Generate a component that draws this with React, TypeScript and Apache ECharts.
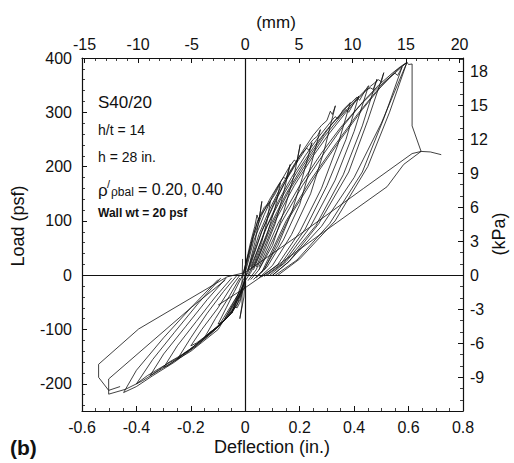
import React, { useEffect, useRef } from "react";
import * as echarts from "echarts";

// ---- tick values ----
const mmTicks = [-15, -10, -5, 0, 5, 10, 15, 20];
const mmMinor = [-14, -13, -12, -11, -9, -8, -7, -6, -4, -3, -2, -1, 1, 2, 3, 4, 6, 7, 8, 9, 11, 12, 13, 14, 16, 17, 18, 19];
const psfTicks = [-200, -100, 0, 100, 200, 300, 400];
const psfMinor = [-240, -220, -180, -160, -140, -120, -80, -60, -40, -20, 20, 40, 60, 80, 120, 140, 160, 180, 220, 240, 260, 280, 320, 340, 360, 380];
const kpaTicks = [-9, -6, -3, 0, 3, 6, 9, 12, 15, 18];
const kpaMinor = [-11, -10, -8, -7, -5, -4, -2, -1, 1, 2, 4, 5, 7, 8, 10, 11, 13, 14, 16, 17, 19];

// ---- positive half cycles [deflection in., load psf] ----
const pos01 = [[-0.01, -5], [0.01, 40], [0.02, 62], [0.035, 90], [0.043, 111], [0.05, 100], [0.061, 136], [0.05, 100], [0.035, 60], [0.015, 20], [0, -5]];
const pos02 = [[-0.01, 0], [0.015, 45], [0.03, 75], [0.05, 105], [0.07, 120], [0.092, 136], [0.08, 100], [0.06, 60], [0.035, 25], [0.01, 0]];
const pos03 = [[-0.005, 5], [0.02, 55], [0.045, 100], [0.07, 125], [0.09, 135], [0.11, 150], [0.129, 170], [0.11, 125], [0.08, 75], [0.05, 35], [0.02, 5], [0, -10]];
const pos04 = [[0, 10], [0.03, 70], [0.06, 110], [0.09, 140], [0.12, 165], [0.14, 180], [0.15, 178], [0.165, 204], [0.14, 150], [0.11, 95], [0.07, 45], [0.04, 10], [0.01, -10]];
const pos05 = [[0, 5], [0.03, 62], [0.07, 112], [0.1, 145], [0.13, 172], [0.16, 198], [0.18, 212], [0.19, 208], [0.202, 241], [0.18, 185], [0.14, 115], [0.1, 55], [0.05, 10], [0.02, -8]];
const pos06 = [[0.01, 10], [0.05, 75], [0.09, 122], [0.13, 162], [0.17, 196], [0.2, 220], [0.225, 234], [0.235, 230], [0.245, 244], [0.21, 180], [0.17, 115], [0.12, 55], [0.07, 12], [0.03, -8]];
const pos07 = [[0.01, 5], [0.06, 80], [0.11, 135], [0.15, 175], [0.19, 208], [0.23, 238], [0.25, 250], [0.265, 256], [0.276, 268], [0.24, 200], [0.2, 130], [0.14, 65], [0.08, 15], [0.04, -5]];
const pos08 = [[0.01, 10], [0.06, 80], [0.11, 138], [0.16, 185], [0.21, 228], [0.25, 258], [0.28, 276], [0.3, 285], [0.3125, 302], [0.32, 296], [0.331, 312], [0.29, 230], [0.24, 150], [0.17, 75], [0.1, 18], [0.05, -5]];
const pos09 = [[0.02, 10], [0.07, 80], [0.12, 135], [0.17, 180], [0.22, 220], [0.27, 255], [0.31, 280], [0.33, 292], [0.34, 288], [0.36, 305], [0.386, 318], [0.34, 240], [0.28, 160], [0.2, 80], [0.12, 20], [0.06, -3]];
const pos10 = [[0.02, 15], [0.08, 90], [0.13, 140], [0.19, 190], [0.25, 235], [0.3, 268], [0.34, 290], [0.37, 305], [0.38, 300], [0.4, 318], [0.417, 330], [0.37, 250], [0.3, 165], [0.22, 85], [0.13, 20], [0.07, -2]];
const pos11 = [[0.03, 15], [0.09, 90], [0.15, 150], [0.21, 200], [0.27, 245], [0.32, 280], [0.37, 308], [0.41, 328], [0.42, 322], [0.44, 340], [0.453, 349], [0.4, 265], [0.33, 175], [0.24, 90], [0.14, 22], [0.08, 0]];
const pos12 = [[0.03, 10], [0.1, 95], [0.16, 155], [0.23, 210], [0.29, 255], [0.35, 292], [0.4, 320], [0.44, 340], [0.46, 345], [0.47, 342], [0.484, 361], [0.43, 275], [0.36, 185], [0.26, 92], [0.15, 25], [0.09, 0]];
const pos13 = [[0.04, 15], [0.11, 100], [0.18, 165], [0.25, 220], [0.31, 262], [0.37, 300], [0.42, 328], [0.46, 348], [0.49, 360], [0.5, 356], [0.509, 373], [0.45, 285], [0.38, 190], [0.27, 95], [0.16, 25], [0.1, 0]];
const pos14 = [[0.05, 15], [0.12, 95], [0.2, 165], [0.28, 225], [0.35, 272], [0.42, 312], [0.48, 342], [0.52, 360], [0.55, 372], [0.56, 368], [0.576, 383], [0.51, 290], [0.43, 190], [0.31, 95], [0.19, 28], [0.11, 0]];
const pos15 = [[0.05, 10], [0.13, 95], [0.21, 165], [0.29, 225], [0.36, 275], [0.43, 318], [0.49, 350], [0.54, 372], [0.57, 384], [0.594, 392], [0.53, 300], [0.45, 200], [0.33, 100], [0.2, 30], [0.12, 0]];
const pos16 = [[0.06, 5], [0.15, 100], [0.24, 175], [0.33, 240], [0.41, 295], [0.48, 338], [0.54, 368], [0.594, 392], [0.5, 280], [0.4, 180], [0.28, 90], [0.16, 25], [0.1, 0]];
const failure = [[0.07, 10], [0.16, 105], [0.26, 185], [0.35, 250], [0.43, 305], [0.5, 348], [0.55, 375], [0.594, 392], [0.6, 388], [0.613, 389], [0.613, 275], [0.646, 228], [0.68, 227], [0.72, 222]];
const failureUnload1 = [[0.646, 228], [0.613, 224], [0.435, 160], [0.2, 75], [0.0, 5], [-0.067, -3], [-0.392, -99], [-0.539, -164], [-0.539, -188], [-0.502, -212], [-0.46, -205]];
const failureUnload2 = [[0.646, 228], [0.582, 204], [0.521, 163], [0.3, 84], [0.129, 22], [-0.006, -25], [-0.1, -55]];

// ---- negative half cycles ----
const neg01 = [[0.0, -5], [-0.01, -30], [-0.02, -50], [-0.03, -60], [-0.04, -58], [-0.05, -70], [-0.03, -40], [-0.01, -10], [0.01, 5]];
const neg02 = [[0, 0], [-0.02, -45], [-0.05, -70], [-0.08, -85], [-0.1, -90], [-0.07, -60], [-0.04, -30], [-0.01, 0]];
const neg03 = [[0, -5], [-0.03, -55], [-0.07, -80], [-0.1, -95], [-0.13, -105], [-0.15, -115], [-0.11, -80], [-0.06, -40], [-0.02, -5]];
const neg04 = [[0, -10], [-0.04, -60], [-0.09, -90], [-0.14, -110], [-0.18, -125], [-0.2, -130], [-0.16, -100], [-0.1, -60], [-0.05, -20], [-0.02, 0]];
const neg05 = [[-0.005, -15], [-0.05, -70], [-0.1, -95], [-0.15, -115], [-0.2, -135], [-0.23, -145], [-0.25, -155], [-0.2, -115], [-0.14, -70], [-0.08, -30], [-0.03, 0]];
const neg06 = [[0, -20], [-0.06, -75], [-0.12, -105], [-0.18, -130], [-0.24, -150], [-0.28, -165], [-0.3, -170], [-0.25, -130], [-0.18, -85], [-0.11, -40], [-0.05, -5]];
const neg07 = [[-0.01, -25], [-0.07, -80], [-0.14, -110], [-0.21, -140], [-0.28, -160], [-0.32, -175], [-0.35, -185], [-0.3, -145], [-0.22, -95], [-0.14, -45], [-0.07, -5]];
const neg08 = [[-0.01, -20], [-0.08, -85], [-0.16, -120], [-0.24, -150], [-0.31, -170], [-0.36, -185], [-0.4, -200], [-0.34, -155], [-0.26, -105], [-0.17, -50], [-0.09, -5]];
const neg09 = [[-0.02, -30], [-0.1, -95], [-0.18, -130], [-0.26, -160], [-0.34, -185], [-0.4, -205], [-0.447, -216], [-0.4, -175], [-0.3, -115], [-0.2, -60], [-0.1, -8]];
const neg10 = [[-0.02, -35], [-0.1, -100], [-0.2, -140], [-0.3, -170], [-0.38, -195], [-0.44, -210], [-0.502, -219], [-0.502, -191], [-0.35, -125], [-0.2, -60], [-0.074, -9]];
const centerSpike = [[-0.01, 30], [-0.012, -24], [-0.012, -55], [-0.02, -80], [-0.005, -40], [0.0, 10]];

const curves = [pos01, pos02, pos03, pos04, pos05, pos06, pos07, pos08, pos09, pos10, pos11, pos12, pos13, pos14, pos15, pos16, failure, failureUnload1, failureUnload2,
  neg01, neg02, neg03, neg04, neg05, neg06, neg07, neg08, neg09, neg10, centerSpike];

const IN_TO_MM = 25.4;
const PSF_TO_KPA = 0.0478803;
const X_MIN = -0.6, X_MAX = 0.8, Y_MIN = -250, Y_MAX = 400;

const FONT = "'Liberation Sans', Arial, Helvetica, sans-serif";
const INK = "#111";

export default function App() {
  const ref = useRef<HTMLDivElement>(null);
  useEffect(() => {
    if (!ref.current) return;
    const chart = echarts.init(ref.current, undefined, { renderer: "svg" });
    const axisLine = { show: true, onZero: false, lineStyle: { color: INK, width: 1.2 } };
    const noLine = { show: false, onZero: false };
    const majorTick = { show: true, inside: true, length: 5, lineStyle: { color: INK, width: 1 } };
    const minorTickStyle = { show: true, inside: true, length: 3, lineStyle: { color: INK, width: 0.8 } };
    const label = { color: INK, fontSize: 16, fontFamily: FONT };
    const txt = (text: string, x: number, y: number, size: number, opts: any = {}) => ({
      type: "text", x, y, rotation: opts.rotation || 0, silent: true,
      style: { text, fontSize: size, fontFamily: FONT, fontWeight: opts.weight || "normal", fill: INK,
        align: opts.align || "left", verticalAlign: "middle" },
    });
    chart.setOption({
      animation: false,
      backgroundColor: "#fff",
      grid: { left: 82, top: 58, right: 51, bottom: 52 },
      xAxis: [
        { type: "value", position: "bottom", min: X_MIN, max: X_MAX, interval: 0.2,
          axisLine, axisTick: majorTick, minorTick: { ...minorTickStyle, splitNumber: 4 },
          axisLabel: { ...label, margin: 8 }, splitLine: { show: false }, minorSplitLine: { show: false } },
        { type: "value", position: "top", min: X_MIN * IN_TO_MM, max: X_MAX * IN_TO_MM,
          axisLine, axisTick: { ...majorTick, customValues: mmTicks },
          axisLabel: { ...label, margin: 6, customValues: mmTicks }, splitLine: { show: false } },
        { type: "value", position: "top", min: X_MIN * IN_TO_MM, max: X_MAX * IN_TO_MM,
          axisLine: noLine, axisTick: { ...minorTickStyle, customValues: mmMinor },
          axisLabel: { show: false }, splitLine: { show: false } },
      ],
      yAxis: [
        { type: "value", position: "left", min: Y_MIN, max: Y_MAX,
          axisLine, axisTick: { ...majorTick, customValues: psfTicks },
          axisLabel: { ...label, margin: 10, customValues: psfTicks }, splitLine: { show: false } },
        { type: "value", position: "left", min: Y_MIN, max: Y_MAX,
          axisLine: noLine, axisTick: { ...minorTickStyle, customValues: psfMinor },
          axisLabel: { show: false }, splitLine: { show: false } },
        { type: "value", position: "right", min: Y_MIN * PSF_TO_KPA, max: Y_MAX * PSF_TO_KPA,
          axisLine, axisTick: { ...majorTick, customValues: kpaTicks },
          axisLabel: { ...label, margin: 7, customValues: kpaTicks }, splitLine: { show: false } },
        { type: "value", position: "right", min: Y_MIN * PSF_TO_KPA, max: Y_MAX * PSF_TO_KPA,
          axisLine: noLine, axisTick: { ...minorTickStyle, customValues: kpaMinor },
          axisLabel: { show: false }, splitLine: { show: false } },
      ],
      series: curves.map((c, i) => ({
        type: "line", data: c, xAxisIndex: 0, yAxisIndex: 0, showSymbol: false, symbol: "none",
        silent: true, lineStyle: { color: INK, width: 0.8 },
        markLine: i === 0 ? {
          silent: true, symbol: ["none", "none"], label: { show: false },
          lineStyle: { color: INK, width: 1.2, type: "solid" },
          data: [{ xAxis: 0 }, { yAxis: 0 }],
        } : undefined,
      })),
      graphic: [
        txt("(mm)", 276, 22, 17, { align: "center" }),
        txt("Load (psf)", 18, 226, 18, { align: "center", rotation: Math.PI / 2 }),
        txt("(kPa)", 499, 234, 18, { align: "center", rotation: Math.PI / 2 }),
        txt("Deflection (in.)", 272, 447, 18, { align: "center" }),
        txt("(b)", 10, 447, 21, { weight: "bold" }),
        txt("S40/20", 98, 102, 17),
        txt("h/t = 14", 98, 130, 14),
        txt("h = 28 in.", 98, 157, 14),
        txt("ρ", 98, 190, 17),
        txt("/", 107, 184, 11),
        txt("ρbal", 111, 192, 12),
        txt("= 0.20, 0.40", 138, 189, 16),
        txt("Wall wt = 20 psf", 98, 213, 12, { weight: "bold" }),
      ],
    });
    return () => chart.dispose();
  }, []);
  return <div ref={ref} style={{ width: 514, height: 463, position: "absolute", left: 0, top: 0 }} />;
}
